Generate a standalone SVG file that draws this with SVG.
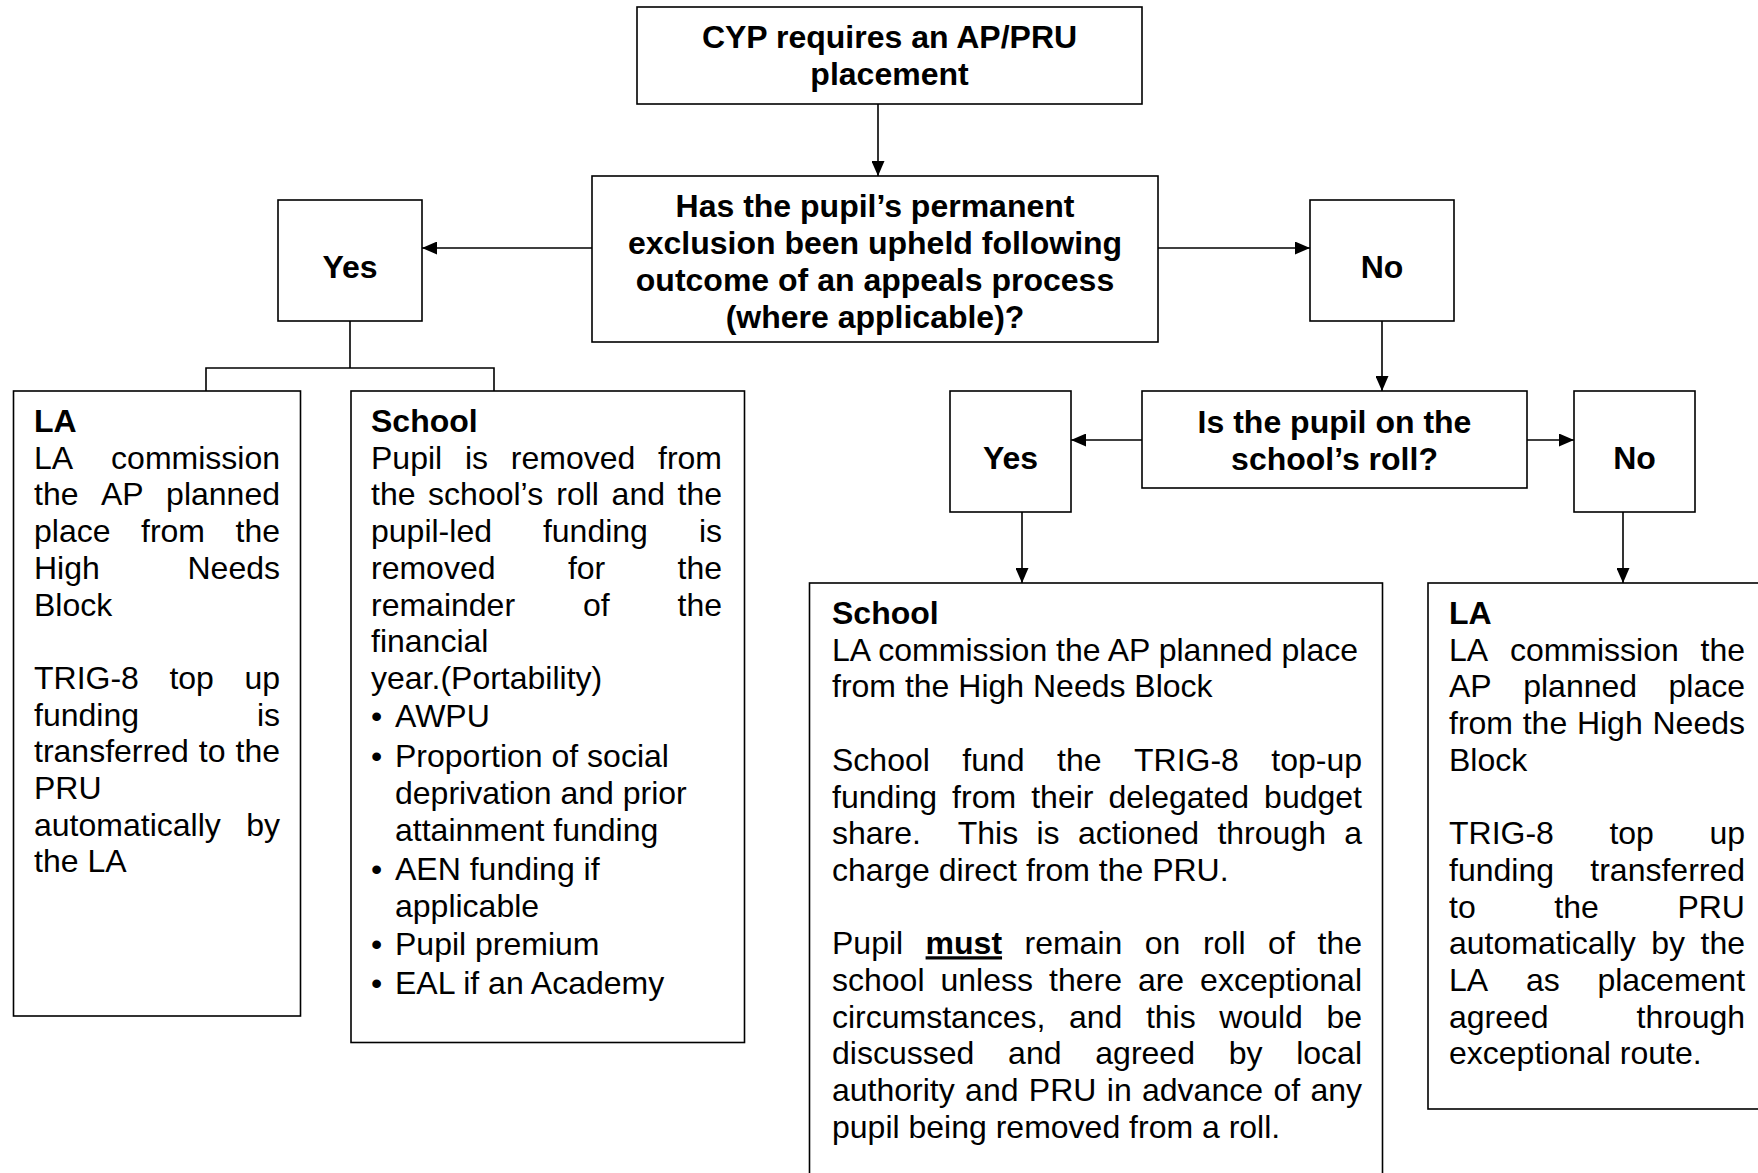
<svg xmlns="http://www.w3.org/2000/svg" width="1758" height="1173" viewBox="0 0 1758 1173">
<style>
  .box { fill: #ffffff; stroke: #000000; stroke-width: 1.6; }
  .t { font-family: "Liberation Sans", Arial, sans-serif; font-size: 32px; fill: #000000; }
  .b { font-weight: bold; }
  .c { text-anchor: middle; }
  .conn { fill: none; stroke: #000000; stroke-width: 1.6; }
</style>
<defs>
  <marker id="ah" markerUnits="userSpaceOnUse" markerWidth="15" markerHeight="13" refX="15" refY="6.5" orient="auto">
    <path d="M0,0 L15,6.5 L0,13 z" fill="#000000"/>
  </marker>
</defs>
<rect x="0" y="0" width="1758" height="1173" fill="#ffffff"/>

<g id="connectors">
  <path class="conn" d="M878,104 V176" marker-end="url(#ah)"/>
  <path class="conn" d="M592,248 H422" marker-end="url(#ah)"/>
  <path class="conn" d="M1158,248 H1310" marker-end="url(#ah)"/>
  <path class="conn" d="M350,320 V368 M206,391 V368 H494 V391"/>
  <path class="conn" d="M1382,320 V391" marker-end="url(#ah)"/>
  <path class="conn" d="M1142,440 H1071" marker-end="url(#ah)"/>
  <path class="conn" d="M1527,440 H1574" marker-end="url(#ah)"/>
  <path class="conn" d="M1022,512 V583" marker-end="url(#ah)"/>
  <path class="conn" d="M1623,512 V583" marker-end="url(#ah)"/>
</g>

<g id="start">
  <rect class="box" x="637" y="7" width="505" height="97"/>
  <text class="t b c" x="889.5" y="48">CYP requires an AP/PRU</text>
  <text class="t b c" x="889.5" y="85">placement</text>
</g>

<g id="decision1">
  <rect class="box" x="592" y="176" width="566" height="166"/>
  <text class="t b c" x="875" y="217">Has the pupil’s permanent</text>
  <text class="t b c" x="875" y="254">exclusion been upheld following</text>
  <text class="t b c" x="875" y="291">outcome of an appeals process</text>
  <text class="t b c" x="875" y="328">(where applicable)?</text>
</g>

<g id="yes1">
  <rect class="box" x="278" y="200" width="144" height="121"/>
  <text class="t b c" x="350" y="277.5">Yes</text>
</g>

<g id="no1">
  <rect class="box" x="1310" y="200" width="144" height="121"/>
  <text class="t b c" x="1382" y="277.5">No</text>
</g>

<g id="decision2">
  <rect class="box" x="1142" y="391" width="385" height="97"/>
  <text class="t b c" x="1334.5" y="433">Is the pupil on the</text>
  <text class="t b c" x="1334.5" y="470">school’s roll?</text>
</g>

<g id="yes2">
  <rect class="box" x="950" y="391" width="121" height="121"/>
  <text class="t b c" x="1010.5" y="469">Yes</text>
</g>

<g id="no2">
  <rect class="box" x="1574" y="391" width="121" height="121"/>
  <text class="t b c" x="1634.5" y="469">No</text>
</g>

<g id="la-left">
  <rect class="box" x="13.5" y="391" width="287" height="625"/>
  <text class="t b" x="34" y="432">LA</text>
  <text class="t" y="468.7"><tspan x="34">LA</tspan><tspan x="111.1">commission</tspan></text>
  <text class="t" y="505.4"><tspan x="34">the</tspan><tspan x="100.9">AP</tspan><tspan x="166.1">planned</tspan></text>
  <text class="t" y="542.1"><tspan x="34">place</tspan><tspan x="141">from</tspan><tspan x="235.5">the</tspan></text>
  <text class="t" y="578.8"><tspan x="34">High</tspan><tspan x="187.5">Needs</tspan></text>
  <text class="t" x="34" y="615.5">Block</text>
  <text class="t" y="688.9"><tspan x="34">TRIG-8</tspan><tspan x="169.4">top</tspan><tspan x="244.4">up</tspan></text>
  <text class="t" y="725.6"><tspan x="34">funding</tspan><tspan x="256.9">is</tspan></text>
  <text class="t" y="762.3"><tspan x="34">transferred</tspan><tspan x="198.8">to</tspan><tspan x="235.5">the</tspan></text>
  <text class="t" x="34" y="799">PRU</text>
  <text class="t" y="835.7"><tspan x="34">automatically</tspan><tspan x="246.2">by</tspan></text>
  <text class="t" x="34" y="872.4">the LA</text>
</g>

<g id="school-left">
  <rect class="box" x="351" y="391" width="393.5" height="651.5"/>
  <text class="t b" x="371" y="432">School</text>
  <text class="t" y="468.7"><tspan x="371">Pupil</tspan><tspan x="464.9">is</tspan><tspan x="510.8">removed</tspan><tspan x="658">from</tspan></text>
  <text class="t" y="505.4"><tspan x="371">the</tspan><tspan x="428.1">school’s</tspan><tspan x="556.3">roll</tspan><tspan x="611.6">and</tspan><tspan x="677.5">the</tspan></text>
  <text class="t" y="542.1"><tspan x="371">pupil-led</tspan><tspan x="542.9">funding</tspan><tspan x="698.9">is</tspan></text>
  <text class="t" y="578.8"><tspan x="371">removed</tspan><tspan x="567.9">for</tspan><tspan x="677.5">the</tspan></text>
  <text class="t" y="615.5"><tspan x="371">remainder</tspan><tspan x="582.9">of</tspan><tspan x="677.5">the</tspan></text>
  <text class="t" x="371" y="652.2">financial</text>
  <text class="t" x="371" y="688.9">year.(Portability)</text>
  <text class="t" x="371" y="727">•</text><text class="t" x="395" y="727">AWPU</text>
  <text class="t" x="371" y="767">•</text><text class="t" x="395" y="767">Proportion of social</text>
  <text class="t" x="395" y="804">deprivation and prior</text>
  <text class="t" x="395" y="841">attainment funding</text>
  <text class="t" x="371" y="880">•</text><text class="t" x="395" y="880">AEN funding if</text>
  <text class="t" x="395" y="917">applicable</text>
  <text class="t" x="371" y="955">•</text><text class="t" x="395" y="955">Pupil premium</text>
  <text class="t" x="371" y="994">•</text><text class="t" x="395" y="994">EAL if an Academy</text>
</g>

<g id="school-right">
  <rect class="box" x="809.5" y="583" width="573" height="620"/>
  <text class="t b" x="832" y="624">School</text>
  <text class="t" x="832" y="660.7">LA commission the AP planned place</text>
  <text class="t" x="832" y="697.4">from the High Needs Block</text>
  <text class="t" y="770.8"><tspan x="832">School</tspan><tspan x="962.3">fund</tspan><tspan x="1057">the</tspan><tspan x="1134">TRIG-8</tspan><tspan x="1271.3">top-up</tspan></text>
  <text class="t" y="807.5"><tspan x="832">funding</tspan><tspan x="952.1">from</tspan><tspan x="1031.2">their</tspan><tspan x="1108.5">delegated</tspan><tspan x="1264.1">budget</tspan></text>
  <text class="t" y="844.2"><tspan x="832">share.</tspan><tspan x="957.7">This</tspan><tspan x="1036.5">is</tspan><tspan x="1078">actioned</tspan><tspan x="1217.4">through</tspan><tspan x="1344.2">a</tspan></text>
  <text class="t" x="832" y="880.9">charge direct from the PRU.</text>
  <text class="t" y="954.3"><tspan x="832">Pupil</tspan><tspan x="925.6" font-weight="bold" style="text-decoration:underline">must</tspan><tspan x="1024.5">remain</tspan><tspan x="1144.8">on</tspan><tspan x="1202.9">roll</tspan><tspan x="1268.1">of</tspan><tspan x="1317.5">the</tspan></text>
  <text class="t" y="991"><tspan x="832">school</tspan><tspan x="940.5">unless</tspan><tspan x="1049">there</tspan><tspan x="1137.9">are</tspan><tspan x="1200.1">exceptional</tspan></text>
  <text class="t" y="1027.7"><tspan x="832">circumstances,</tspan><tspan x="1069">and</tspan><tspan x="1145.9">this</tspan><tspan x="1219.3">would</tspan><tspan x="1326.4">be</tspan></text>
  <text class="t" y="1064.4"><tspan x="832">discussed</tspan><tspan x="1008.1">and</tspan><tspan x="1095.3">agreed</tspan><tspan x="1228.7">by</tspan><tspan x="1296.2">local</tspan></text>
  <text class="t" y="1101.1"><tspan x="832">authority</tspan><tspan x="965.1">and</tspan><tspan x="1028.8">PRU</tspan><tspan x="1106.8">in</tspan><tspan x="1142">advance</tspan><tspan x="1273.4">of</tspan><tspan x="1310.4">any</tspan></text>
  <text class="t" x="832" y="1137.8">pupil being removed from a roll.</text>
</g>

<g id="la-right">
  <rect class="box" x="1428" y="583" width="340" height="526"/>
  <text class="t b" x="1449" y="624">LA</text>
  <text class="t" y="660.7"><tspan x="1449">LA</tspan><tspan x="1509.9">commission</tspan><tspan x="1700.5">the</tspan></text>
  <text class="t" y="697.4"><tspan x="1449">AP</tspan><tspan x="1523.2">planned</tspan><tspan x="1668.5">place</tspan></text>
  <text class="t" y="734.1"><tspan x="1449">from</tspan><tspan x="1522.7">the</tspan><tspan x="1576.9">High</tspan><tspan x="1652.5">Needs</tspan></text>
  <text class="t" x="1449" y="770.8">Block</text>
  <text class="t" y="844.2"><tspan x="1449">TRIG-8</tspan><tspan x="1609.4">top</tspan><tspan x="1709.4">up</tspan></text>
  <text class="t" y="880.9"><tspan x="1449">funding</tspan><tspan x="1590.3">transferred</tspan></text>
  <text class="t" y="917.6"><tspan x="1449">to</tspan><tspan x="1554.3">the</tspan><tspan x="1677.4">PRU</tspan></text>
  <text class="t" y="954.3"><tspan x="1449">automatically</tspan><tspan x="1651.2">by</tspan><tspan x="1700.5">the</tspan></text>
  <text class="t" y="991"><tspan x="1449">LA</tspan><tspan x="1525.9">as</tspan><tspan x="1597.4">placement</tspan></text>
  <text class="t" y="1027.7"><tspan x="1449">agreed</tspan><tspan x="1636.5">through</tspan></text>
  <text class="t" x="1449" y="1064.4">exceptional route.</text>
</g>
</svg>
